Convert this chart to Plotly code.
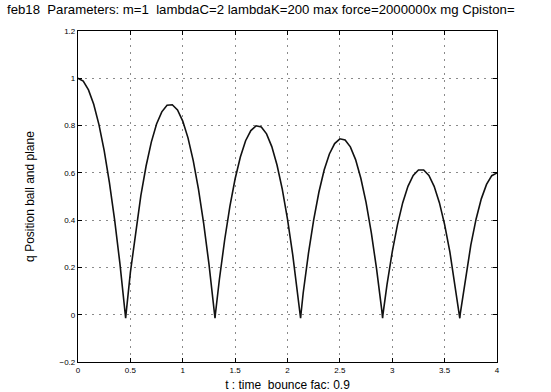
import plotly.graph_objects as go

# Bouncing ball trajectory: time (s) and position q of ball relative to plane
t = [0.00, 0.05, 0.10, 0.15, 0.20, 0.25, 0.30, 0.35, 0.40, 0.43, 0.452, 0.455,
     0.458, 0.50, 0.55, 0.60, 0.65, 0.70, 0.75, 0.80, 0.85, 0.90, 0.95, 1.00,
     1.05, 1.10, 1.15, 1.20, 1.25, 1.30, 1.305, 1.308,
     1.311, 1.35, 1.40, 1.45, 1.50, 1.55, 1.60, 1.65, 1.70, 1.75, 1.80, 1.85,
     1.90, 1.95, 2.00, 2.05, 2.10, 2.12, 2.125,
     2.128, 2.15, 2.20, 2.25, 2.30, 2.35, 2.40, 2.45, 2.50, 2.55, 2.60, 2.65,
     2.70, 2.75, 2.80, 2.85, 2.90, 2.905, 2.908,
     2.911, 2.95, 3.00, 3.05, 3.10, 3.15, 3.20, 3.25, 3.30, 3.35, 3.40, 3.45,
     3.50, 3.55, 3.60, 3.64, 3.645,
     3.648, 3.70, 3.75, 3.80, 3.85, 3.90, 3.95, 4.00]
q = [1.000, 0.988, 0.951, 0.890, 0.804, 0.694, 0.559, 0.400, 0.217, 0.095, 0.000, -0.015,
     0.000, 0.179, 0.353, 0.504, 0.629, 0.730, 0.807, 0.858, 0.886, 0.888, 0.866, 0.819,
     0.748, 0.652, 0.531, 0.385, 0.215, 0.021, 0.000, -0.015,
     0.000, 0.150, 0.316, 0.458, 0.575, 0.667, 0.736, 0.779, 0.799, 0.794, 0.765, 0.711,
     0.633, 0.531, 0.404, 0.253, 0.077, 0.000, -0.015,
     0.000, 0.093, 0.259, 0.401, 0.519, 0.612, 0.680, 0.724, 0.744, 0.739, 0.710, 0.656,
     0.577, 0.475, 0.347, 0.195, 0.019, 0.000, -0.015,
     0.000, 0.127, 0.266, 0.381, 0.474, 0.543, 0.589, 0.612, 0.612, 0.589, 0.543, 0.474,
     0.381, 0.266, 0.127, 0.000, -0.015,
     0.000, 0.159, 0.294, 0.404, 0.490, 0.551, 0.588, 0.600]

x_ticks = [0, 0.5, 1, 1.5, 2, 2.5, 3, 3.5, 4]
x_tick_text = ["0", "0.5", "1", "1.5", "2", "2.5", "3", "3.5", "4"]
y_ticks = [-0.2, 0, 0.2, 0.4, 0.6, 0.8, 1, 1.2]
y_tick_text = ["\u22120.2", "0", "0.2", "0.4", "0.6", "0.8", "1", "1.2"]

title_text = "feb18  Parameters: m=1  lambdaC=2 lambdaK=200 max force=2000000x mg Cpiston="
x_label = "t : time  bounce fac: 0.9"
y_label = "q Position ball and plane"

font_family = "Liberation Sans, Arial, Helvetica, sans-serif"

fig = go.Figure()
fig.add_trace(go.Scatter(
    x=t, y=q, mode="lines",
    line=dict(color="#111111", width=1.6),
    showlegend=False,
))

axis_common = dict(
    showline=True, linecolor="black", linewidth=1.2, mirror="allticks",
    ticks="inside", ticklen=4, tickcolor="black",
    showgrid=True, gridcolor="#8a8a8a", griddash="2px,5px", gridwidth=1,
    zeroline=False, automargin=False,
    tickfont=dict(family=font_family, size=8, color="black"),
)

fig.update_layout(
    width=551, height=392,
    margin=dict(l=78, r=54, t=31, b=30),
    paper_bgcolor="white", plot_bgcolor="white",
    title=dict(text=title_text, x=7 / 551, xanchor="left", xref="container",
               y=0.975, yanchor="middle",
               font=dict(family=font_family, size=13.2, color="black")),
    xaxis=dict(range=[0, 4], tickvals=x_ticks, ticktext=x_tick_text,
               title=dict(text=x_label, standoff=9,
                          font=dict(family=font_family, size=12, color="black")),
               **axis_common),
    yaxis=dict(range=[-0.2, 1.2], tickvals=y_ticks, ticktext=y_tick_text,
               title=dict(text=y_label, standoff=22,
                          font=dict(family=font_family, size=12, color="black")),
               **axis_common),
)

fig.write_html("out.html")
